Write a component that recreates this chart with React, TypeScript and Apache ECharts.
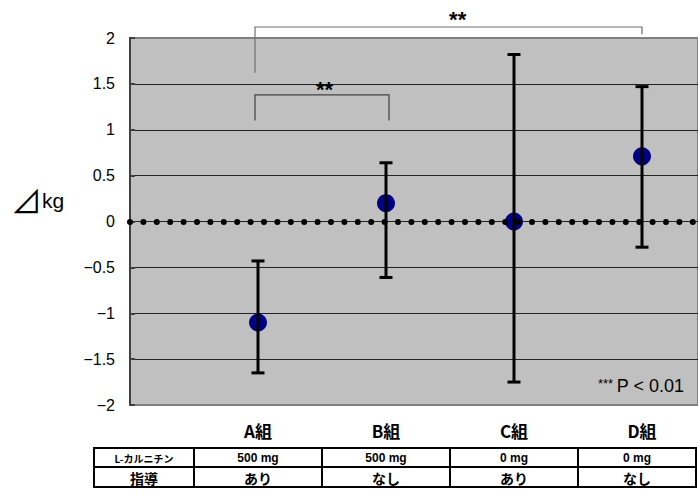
import React, { useEffect, useRef } from "react";
import * as echarts from "echarts";

const categories = ["A組", "B組", "C組", "D組"];
const means = [-1.1, 0.2, 0.0, 0.71];
const upperErr = [-0.43, 0.64, 1.82, 1.47];
const lowerErr = [-1.65, -0.61, -1.75, -0.28];
const carnitine = ["500 mg", "500 mg", "0 mg", "0 mg"];
const guidance = ["あり", "なし", "あり", "なし"];
const rowHeaders = ["L-カルニチン", "指導"];

const JP = '"Noto Sans CJK JP", "Liberation Sans", sans-serif';
const LAT = '"Liberation Sans", Arial, sans-serif';

export default function App() {
  const ref = useRef<HTMLDivElement>(null);
  useEffect(() => {
    document.body.style.margin = "0";
    document.body.style.overflow = "hidden";
    document.documentElement.style.overflow = "hidden";
    if (!ref.current) return;
    const chart = echarts.init(ref.current, null, { renderer: "svg" });
    const option: any = {
      animation: false,
      backgroundColor: "#ffffff",
      grid: {
        left: 130,
        top: 38,
        right: 0,
        bottom: 90,
        show: true,
        backgroundColor: "#C0C0C0",
        borderColor: "#808080",
        borderWidth: 2,
      },
      xAxis: {
        type: "value",
        min: 0,
        max: 4.4375,
        interval: 1,
        axisLine: { show: false },
        axisTick: { show: false },
        splitLine: { show: false },
        axisLabel: {
          margin: 17,
          color: "#000",
          fontSize: 17,
          fontWeight: "bold",
          fontFamily: JP,
          showMaxLabel: false,
          formatter: (v: number) => (Number.isInteger(v) ? categories[v - 1] ?? "" : ""),
        },
      },
      yAxis: {
        type: "value",
        min: -2,
        max: 2,
        interval: 0.5,
        axisLine: { show: true, lineStyle: { color: "#404040", width: 2 } },
        axisTick: { show: true, inside: true, length: 5, lineStyle: { color: "#404040", width: 2 } },
        splitLine: {
          show: true,
          lineStyle: {
            color: ["#808080", "#222", "#222", "#222", "#222", "#222", "#222", "#222", "#808080"],
            width: 1,
          },
        },
        axisLabel: {
          margin: 15,
          color: "#000",
          fontSize: 16,
          fontFamily: LAT,
          formatter: (v: number) => String(v).replace("-", "−"),
        },
      },
      series: [
        {
          type: "scatter",
          data: means.map((m, i) => [i + 1, m]),
          symbol: "circle",
          symbolSize: 18,
          itemStyle: { color: "#000080", opacity: 1 },
          z: 3,
          markLine: {
            silent: true,
            symbol: "none",
            label: { show: false },
            lineStyle: { color: "#000", width: 6, type: [0, 13.4], cap: "round", opacity: 1 },
            data: [{ yAxis: 0 }],
          },
        },
        {
          type: "custom",
          z: 5,
          data: means.map((_, i) => [i + 1, upperErr[i], lowerErr[i]]),
          renderItem: (params: any, api: any) => {
            const x = api.value(0);
            const top = api.coord([x, api.value(1)]);
            const bot = api.coord([x, api.value(2)]);
            const hw = 6.5;
            const st = { stroke: "#000", lineWidth: 3 };
            return {
              type: "group",
              children: [
                { type: "line", shape: { x1: top[0], y1: top[1], x2: bot[0], y2: bot[1] }, style: st },
                { type: "line", shape: { x1: top[0] - hw, y1: top[1], x2: top[0] + hw, y2: top[1] }, style: st },
                { type: "line", shape: { x1: bot[0] - hw, y1: bot[1], x2: bot[0] + hw, y2: bot[1] }, style: st },
              ],
            };
          },
        },
      ],
    };
    chart.setOption(option);

    const px = (x: number, y: number) => chart.convertToPixel({ gridIndex: 0 }, [x, y]) as number[];
    const colX = categories.map((_, i) => px(i + 1, 0)[0]);
    const half = (colX[1] - colX[0]) / 2;
    const tableLeft = 94;
    const tableRight = 696;
    const tTop = 448;
    const tMid = 467;
    const tBot = 487;
    const borders = [tableLeft, colX[0] - half, colX[1] - half, colX[2] - half, colX[3] - half, tableRight];
    const lineSt = { stroke: "#000", lineWidth: 2 };
    const graphics: any[] = [];

    // Brackets
    const bigL = px(1, 1.62);
    const bigTop = px(1, 2.12);
    const bigR = px(4, 2.04);
    graphics.push({
      type: "polyline",
      shape: { points: [[bigL[0] - 3, bigL[1]], [bigL[0] - 3, bigTop[1]], [bigR[0], bigTop[1]], [bigR[0], bigR[1]]] },
      style: { stroke: "#707070", lineWidth: 1.2, fill: null },
      z: 10,
    });
    const smL = px(1, 1.1);
    const smTop = px(1, 1.38);
    const smR = px(2, 1.1);
    graphics.push({
      type: "polyline",
      shape: { points: [[smL[0] - 3, smL[1]], [smL[0] - 3, smTop[1]], [smR[0] + 3, smTop[1]], [smR[0] + 3, smR[1]]] },
      style: { stroke: "#404040", lineWidth: 1.2, fill: null },
      z: 10,
    });
    const star1 = px(2.56, 2.12);
    graphics.push({
      type: "text",
      x: star1[0],
      y: star1[1] + 4,
      style: { text: "**", fontSize: 22, fontWeight: "bold", fontFamily: LAT, fill: "#000", align: "center", verticalAlign: "bottom" },
      z: 10,
    });
    const star2 = px(1.52, 1.38);
    graphics.push({
      type: "text",
      x: star2[0],
      y: star2[1] + 6,
      style: { text: "**", fontSize: 22, fontWeight: "bold", fontFamily: LAT, fill: "#000", align: "center", verticalAlign: "bottom" },
      z: 10,
    });

    // Y axis name
    graphics.push({
      type: "text",
      x: 11,
      y: 199,
      style: {
        text: "{a|⊿}{b|kg}",
        verticalAlign: "middle",
        rich: {
          a: { fontSize: 31, fontFamily: JP, fill: "#000" },
          b: { fontSize: 21, fontFamily: LAT, fill: "#000", padding: [3, 0, 0, 0] },
        },
      },
    });

    // P note
    graphics.push({
      type: "text",
      x: 684,
      y: 386,
      style: {
        text: "{s|***} {n|P < 0.01}",
        align: "right",
        verticalAlign: "middle",
        rich: {
          s: { fontSize: 13, fontFamily: LAT, fill: "#000", verticalAlign: "top", padding: [0, 0, 6, 0] },
          n: { fontSize: 18, fontFamily: LAT, fill: "#000" },
        },
      },
      z: 10,
    });

    // Table
    graphics.push({ type: "rect", shape: { x: tableLeft, y: tTop, width: tableRight - tableLeft, height: tBot - tTop }, style: { fill: "#fff", stroke: "#000", lineWidth: 2 } });
    graphics.push({ type: "line", shape: { x1: tableLeft, y1: tMid, x2: tableRight, y2: tMid }, style: lineSt });
    for (let i = 1; i < borders.length - 1; i++) {
      graphics.push({ type: "line", shape: { x1: borders[i], y1: tTop, x2: borders[i], y2: tBot }, style: lineSt });
    }
    const r1 = (tTop + tMid) / 2 + 0.5;
    const r2 = (tMid + tBot) / 2 + 0.5;
    const firstC = (tableLeft + borders[1]) / 2;
    graphics.push({ type: "text", x: firstC, y: r1, style: { text: rowHeaders[0], fontSize: 10, fontWeight: "bold", fontFamily: JP, fill: "#000", align: "center", verticalAlign: "middle" } });
    graphics.push({ type: "text", x: firstC, y: r2, style: { text: rowHeaders[1], fontSize: 14, fontWeight: "bold", fontFamily: JP, fill: "#000", align: "center", verticalAlign: "middle" } });
    categories.forEach((_, i) => {
      const cx = (borders[i + 1] + borders[i + 2]) / 2;
      graphics.push({ type: "text", x: cx, y: r1, style: { text: carnitine[i], fontSize: 12, fontWeight: "bold", fontFamily: LAT, fill: "#000", align: "center", verticalAlign: "middle" } });
      graphics.push({ type: "text", x: cx, y: r2, style: { text: guidance[i], fontSize: 14, fontWeight: "bold", fontFamily: JP, fill: "#000", align: "center", verticalAlign: "middle" } });
    });

    chart.setOption({ graphic: graphics });
    return () => chart.dispose();
  }, []);
  return <div ref={ref} style={{ width: 698, height: 495, position: "absolute", left: 0, top: 0 }} />;
}
